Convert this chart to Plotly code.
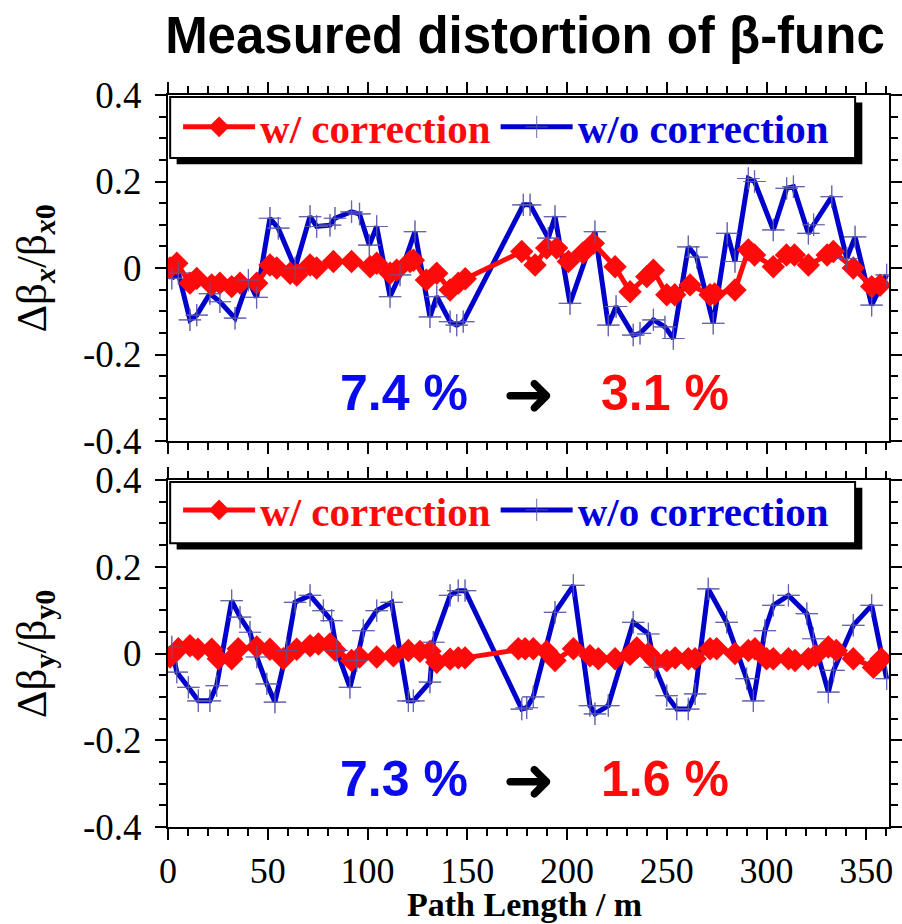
import plotly.graph_objects as go

# ---------------- data ----------------
# horizontal (x) plane
bx_wo_s = [1.9, 5.2, 11, 14.4, 21, 26, 33.6, 40.3, 44.4, 51.1, 55.3, 63.7, 71.2, 74.5, 81.2, 83.7, 92, 96,
           100.9, 104.6, 111.3, 116.3, 123.8, 131.3, 134.7, 141.4, 144.7, 148, 178.1, 181.5, 190.6, 194,
           201.5, 214, 220.7, 224.6, 233.2, 236.6, 243.3, 249.1, 253.3, 260.8, 265, 273.3, 280.3, 284.2,
           290.9, 294, 303.4, 310.1, 313.5, 321, 323.6, 332.7, 340.2, 344.4, 352.7, 360.2]
bx_wo_v = [-0.024, -0.012, -0.12, -0.109, -0.059, -0.078, -0.116, -0.028, -0.068, 0.115, 0.092, 0.0, 0.119,
           0.096, 0.099, 0.115, 0.13, 0.125, 0.053, 0.096, -0.066, -0.016, 0.084, -0.113, -0.066, -0.124,
           -0.132, -0.124, 0.146, 0.146, 0.069, 0.119, -0.082, 0.084, -0.132, -0.089, -0.155, -0.151, -0.12,
           -0.136, -0.163, 0.049, 0.025, -0.128, 0.08, 0.015, 0.207, 0.2, 0.088, 0.184, 0.188, 0.08, 0.1,
           0.165, 0.022, 0.072, -0.086, -0.016]

bx_w_s = [1, 4.4, 11, 14.4, 21.9, 26, 31.9, 36.1, 44.5, 51.1, 54.5, 61.2, 64.5, 71.2, 74.5, 82.9, 92,
          101.3, 104.6, 111.3, 114.6, 121.3, 123, 129.5, 134.7, 141.4, 145.5, 149, 177.3, 184, 189.8,
          194.8, 200.7, 208, 213.2, 224.1, 231.6, 240, 243.3, 250, 254, 261.7, 271.7, 274, 284.2, 290.9,
          294, 303.4, 310, 314, 321, 330.4, 333.5, 343.5, 352.7, 356.9]
bx_w_v = [0.0, 0.011, -0.035, -0.024, -0.039, -0.035, -0.043, -0.035, -0.035, 0.007, 0.0, -0.012, -0.016,
          0.007, 0.0, 0.015, 0.015, 0.003, 0.011, -0.012, -0.005, 0.015, 0.018, -0.028, -0.012, -0.051,
          -0.035, -0.025, 0.038, 0.007, 0.046, 0.046, 0.015, 0.035, 0.057, 0.003, -0.055, -0.02, -0.005,
          -0.062, -0.062, -0.039, -0.062, -0.06, -0.051, 0.042, 0.03, 0.003, 0.03, 0.03, 0.007, 0.03, 0.038,
          0.0, -0.043, -0.04]

# vertical (y) plane
by_wo_s = [1.9, 4.4, 10.2, 15.2, 21, 24.4, 31.9, 36.1, 41.1, 44.5, 49.5, 53.6, 59.5, 63.7, 71.2, 77.9, 82,
           84.5, 91.2, 94.6, 97.9, 104.6, 112.1, 120.5, 123, 131.3, 133, 141.4, 145.5, 148.9, 177.3, 179.8,
           183.1, 194, 203.2, 211.5, 214, 220.7, 233.2, 240.8, 244.1, 250, 255, 260.8, 264.2, 270.8, 280,
           290, 293.4, 299.2, 303.4, 311, 320.2, 323.5, 331, 333.6, 343.5, 352.7, 360.2]
by_wo_v = [0.015, -0.043, -0.078, -0.109, -0.109, -0.074, 0.122, 0.084, 0.049, -0.008, -0.07, -0.112, 0.007,
           0.118, 0.134, 0.099, 0.076, 0.007, -0.078, -0.016, 0.053, 0.099, 0.118, -0.109, -0.109, -0.066,
           0.026, 0.134, 0.145, 0.145, -0.128, -0.125, -0.1, 0.095, 0.157, -0.12, -0.139, -0.12, 0.072,
           0.045, -0.032, -0.097, -0.128, -0.128, -0.093, 0.149, 0.072, -0.058, -0.109, 0.053, 0.111, 0.134,
           0.092, 0.034, -0.089, -0.039, 0.065, 0.111, -0.058]

by_w_s = [1, 5.2, 11, 15, 21.9, 25.2, 31.9, 35.2, 44.5, 51.1, 57.8, 64.5, 71.2, 75.4, 81.2, 83.7, 92, 96,
          104.6, 113, 120.5, 126.3, 131.3, 134.7, 141.4, 145.5, 148.9, 175.6, 179, 183.1, 189.8, 194, 203.2,
          211.5, 215.7, 224.1, 231.6, 235, 240.8, 244.1, 250, 254.2, 260.8, 264.2, 271.7, 275, 284.2, 290.9,
          294.2, 300, 303.4, 311, 314.3, 321, 324.4, 331, 335, 343.5, 353.6, 357.5]
by_w_v = [-0.008, 0.011, 0.018, 0.01, 0.01, -0.012, -0.012, 0.011, 0.015, 0.01, -0.012, 0.01, 0.018, 0.022,
          0.022, 0.008, -0.016, -0.008, -0.008, -0.005, 0.007, 0.005, 0.005, -0.02, -0.013, -0.01, -0.01,
          0.011, 0.011, 0.011, 0.005, -0.016, 0.011, -0.005, -0.012, -0.012, -0.002, 0.013, 0.0, -0.016,
          -0.016, -0.01, -0.012, -0.012, 0.011, 0.011, 0.0, 0.007, 0.011, -0.012, -0.012, -0.012, -0.016,
          -0.012, -0.005, 0.015, 0.007, -0.012, -0.032, -0.012]

x_tickvals = [0, 50, 100, 150, 200, 250, 300, 350]
x_ticktext = ["0", "50", "100", "150", "200", "250", "300", "350"]
y_tickvals = [-0.4, -0.2, 0, 0.2, 0.4]
y_ticktext = ["-0.4", "-0.2", "0", "0.2", "0.4"]

rms_x = ["7.4 %", "3.1 %"]
rms_y = ["7.3 %", "1.6 %"]

title_text = "Measured distortion of β-func"
xlabel = "Path Length / m"
ylabel_x = "Δβ<sub><b><i>x</i></b></sub>/β<sub><b><i>x</i>0</b></sub>"
ylabel_y = "Δβ<sub><b>y</b></sub>/β<sub><b>y0</b></sub>"

RED = "#ff0a0a"
BLUE = "#0000cc"
CROSS = "rgba(90,90,170,0.75)"

name_w = "<span style='color:#ff0a0a'>w/ correction</span>"
name_wo = "<span style='color:#0000dd'>w/o correction</span>"

fig = go.Figure()


def add_panel(xa, ya, s_wo, v_wo, s_w, v_w, legend):
    fig.add_trace(go.Scatter(x=s_wo, y=v_wo, xaxis=xa, yaxis=ya, mode="lines+markers", name=name_wo,
                             line=dict(color=BLUE, width=5),
                             marker=dict(symbol="cross-thin", size=16, line=dict(color=CROSS, width=1.2)),
                             legend=legend, legendrank=2))
    fig.add_trace(go.Scatter(x=s_w, y=v_w, xaxis=xa, yaxis=ya, mode="lines+markers", name=name_w,
                             line=dict(color=RED, width=5),
                             marker=dict(symbol="diamond", size=18, color=RED),
                             legend=legend, legendrank=1))
    fig.add_trace(go.Scatter(x=s_wo, y=v_wo, xaxis=xa, yaxis=ya, mode="markers", showlegend=False,
                             marker=dict(symbol="cross-thin", size=16, line=dict(color=CROSS, width=1.2)),
                             hoverinfo="skip"))


add_panel("x2", "y2", bx_wo_s, bx_wo_v, bx_w_s, bx_w_v, "legend")
add_panel("x", "y", by_wo_s, by_wo_v, by_w_s, by_w_v, "legend2")

axis_common = dict(showline=True, linewidth=2, linecolor="black", mirror="allticks",
                   ticks="outside", ticklen=11, tickwidth=2, tickcolor="black",
                   showgrid=False, zeroline=False, automargin=False)

xcommon = dict(axis_common, range=[0, 361.4], tickvals=x_tickvals, ticktext=x_ticktext,
               tickfont=dict(family="Liberation Serif", size=36, color="black"),
               minor=dict(dtick=10, tick0=0, ticks="outside", ticklen=7, tickwidth=1.5, tickcolor="black"))
ycommon = dict(axis_common, range=[-0.4, 0.4], tickvals=y_tickvals, ticktext=y_ticktext,
               tickfont=dict(family="Liberation Serif", size=37, color="black"),
               minor=dict(dtick=0.05, tick0=0, ticks="outside", ticklen=7, tickwidth=1.5, tickcolor="black"),
               ticklabelstandoff=6)

bot_dom = [0, 0.474]
top_dom = [0.5273, 1]

legend_common = dict(orientation="h", bgcolor="rgba(0,0,0,0)", borderwidth=0,
                     font=dict(family="Liberation Serif", size=41, weight="bold"),
                     xanchor="left", yanchor="middle", itemwidth=72, tracegroupgap=0,
                     traceorder="normal")

fig.update_layout(
    width=902, height=924,
    margin=dict(l=168, r=13, t=95, b=97, autoexpand=False),
    plot_bgcolor="white", paper_bgcolor="white",
    showlegend=True,
    xaxis=dict(xcommon, anchor="y", domain=[0, 1]),
    xaxis2=dict(xcommon, anchor="y2", matches="x", showticklabels=False),
    yaxis=dict(ycommon, anchor="x", domain=bot_dom),
    yaxis2=dict(ycommon, anchor="x2", domain=top_dom),
    legend=dict(legend_common, x=0.014, y=0.956),
    legend2=dict(legend_common, x=0.014, y=0.4327),
    title=dict(text="<b>" + title_text + "</b>", x=0.582, xanchor="center", y=0.962, yanchor="middle",
               xref="container", yref="container",
               font=dict(family="Liberation Sans", size=51, color="black")),
)

# legend frames with drop shadows
shapes = []
for xr, yr in (("x2 domain", "y2 domain"), ("x domain", "y domain")):
    shapes.append(dict(type="rect", xref=xr, yref=yr, x0=0.012, x1=0.963, y0=0.80, y1=0.978,
                       fillcolor="black", line=dict(width=0), layer="above"))
    shapes.append(dict(type="rect", xref=xr, yref=yr, x0=0.003, x1=0.953, y0=0.818, y1=0.994,
                       fillcolor="white", line=dict(color="black", width=2), layer="above"))
fig.update_layout(shapes=shapes)

ann = []
pct_font = dict(family="Liberation Sans", size=50, weight="bold")
for xr, yr, vals in (("x2", "y2", rms_x), ("x", "y", rms_y)):
    ann.append(dict(x=118.5, y=-0.29, xref=xr, yref=yr, text=vals[0], showarrow=False,
                    font=dict(pct_font, color="#0a0af0")))
    ann.append(dict(x=181.0, y=-0.29, xref=xr, yref=yr, text="➜", showarrow=False,
                    font=dict(family="DejaVu Sans", size=62, color="black")))
    ann.append(dict(x=249.0, y=-0.29, xref=xr, yref=yr, text=vals[1], showarrow=False,
                    font=dict(pct_font, color="#ff0a0a")))

ylab_font = dict(family="Liberation Serif", size=43, color="black")
ann.append(dict(x=-0.185, xref="paper", y=0.7637, yref="paper", text=ylabel_x, textangle=-90,
                showarrow=False, font=ylab_font, xanchor="center", yanchor="middle"))
ann.append(dict(x=-0.185, xref="paper", y=0.237, yref="paper", text=ylabel_y, textangle=-90,
                showarrow=False, font=ylab_font, xanchor="center", yanchor="middle"))
ann.append(dict(x=0.495, xref="paper", y=-0.1055, yref="paper", text="<b>" + xlabel + "</b>",
                showarrow=False, xanchor="center", yanchor="middle",
                font=dict(family="Liberation Serif", size=34, color="black")))
fig.update_layout(annotations=ann)

fig.write_html("out.html")
